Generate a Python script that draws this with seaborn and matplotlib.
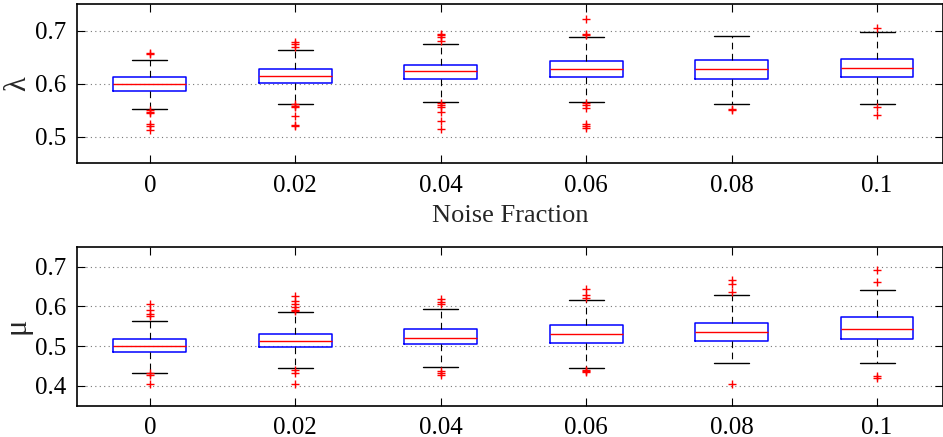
import numpy as np
import matplotlib
matplotlib.use("Agg")
import matplotlib.pyplot as plt
import seaborn as sns

# noise fractions on the x axis
noise = ["0", "0.02", "0.04", "0.06", "0.08", "0.1"]

# lambda box stats
lam_med = [0.600, 0.615, 0.623, 0.627, 0.627, 0.629]
lam_q1 = [0.587, 0.602, 0.608, 0.612, 0.609, 0.612]
lam_q3 = [0.612, 0.627, 0.636, 0.643, 0.644, 0.647]
lam_lo = [0.552, 0.562, 0.566, 0.566, 0.561, 0.562]
lam_hi = [0.644, 0.664, 0.675, 0.688, 0.689, 0.698]
lam_out = [
    [0.658, 0.655, 0.550, 0.547, 0.544, 0.524, 0.521, 0.513],
    [0.678, 0.674, 0.669, 0.561, 0.558, 0.556, 0.540, 0.522, 0.521],
    [0.694, 0.691, 0.687, 0.680, 0.564, 0.560, 0.557, 0.546, 0.529, 0.514],
    [0.722, 0.694, 0.692, 0.564, 0.559, 0.554, 0.524, 0.521, 0.516],
    [0.552, 0.550],
    [0.704, 0.557, 0.542],
]

# mu box stats
mu_med = [0.500, 0.512, 0.521, 0.531, 0.535, 0.544]
mu_q1 = [0.484, 0.497, 0.504, 0.508, 0.513, 0.519]
mu_q3 = [0.518, 0.531, 0.543, 0.552, 0.559, 0.574]
mu_lo = [0.432, 0.445, 0.447, 0.445, 0.457, 0.457]
mu_hi = [0.564, 0.585, 0.593, 0.616, 0.629, 0.642]
mu_out = [
    [0.607, 0.590, 0.581, 0.576, 0.431, 0.426, 0.405],
    [0.625, 0.614, 0.607, 0.597, 0.590, 0.587, 0.439, 0.431, 0.405],
    [0.618, 0.612, 0.605, 0.438, 0.431, 0.426],
    [0.644, 0.628, 0.621, 0.441, 0.437, 0.434],
    [0.666, 0.657, 0.636, 0.404],
    [0.692, 0.661, 0.425, 0.420],
]

sns.set_style("white")
plt.rcParams["font.family"] = ["Liberation Serif", "DejaVu Serif"]


def make_stats(med, q1, q3, lo, hi, out):
    stats = []
    for i in range(len(med)):
        stats.append(dict(med=med[i], q1=q1[i], q3=q3[i],
                          whislo=lo[i], whishi=hi[i], fliers=out[i]))
    return stats


def draw(ax, stats, ylab, ylim, yticks):
    ax.bxp(stats, positions=np.arange(1, len(stats) + 1), widths=0.5,
           showfliers=True, capwidths=0.24,
           boxprops=dict(color="blue", linewidth=1.1),
           medianprops=dict(color="red", linewidth=1),
           whiskerprops=dict(color="black", linestyle=(0, (6, 4)), linewidth=0.8),
           capprops=dict(color="black", linewidth=1),
           flierprops=dict(marker="+", markeredgecolor="red", markersize=6,
                           markeredgewidth=1, linestyle="none"))
    ax.set_xlim(0.5, 6.45)
    ax.set_ylim(*ylim)
    ax.set_xticks(np.arange(1, 7))
    ax.set_xticklabels(noise)
    ax.set_yticks(yticks)
    ax.yaxis.grid(True, linestyle=(0, (1, 3)), color="#777777", linewidth=0.8)
    ax.xaxis.grid(False)
    ax.tick_params(direction="in", length=6, width=0.8, top=True, right=True,
                   bottom=True, left=True, labelsize=18, colors="black", pad=8)
    ax.set_ylabel(ylab, fontsize=22, labelpad=2)
    for s in ax.spines.values():
        s.set_visible(True)
        s.set_color("black")
        s.set_linewidth(1.2)


fig = plt.figure(figsize=(9.43, 4.37), dpi=100)
ax1 = fig.add_axes([0.0817, 0.626, 0.9178, 0.365])
ax2 = fig.add_axes([0.0817, 0.0716, 0.9178, 0.364])

draw(ax1, make_stats(lam_med, lam_q1, lam_q3, lam_lo, lam_hi, lam_out),
     "λ", (0.45, 0.75), [0.5, 0.6, 0.7])
draw(ax2, make_stats(mu_med, mu_q1, mu_q3, mu_lo, mu_hi, mu_out),
     "μ", (0.35, 0.75), [0.4, 0.5, 0.6, 0.7])
ax1.set_xlabel("Noise Fraction", fontsize=19, labelpad=6)

fig.savefig("out.png", dpi=100)
